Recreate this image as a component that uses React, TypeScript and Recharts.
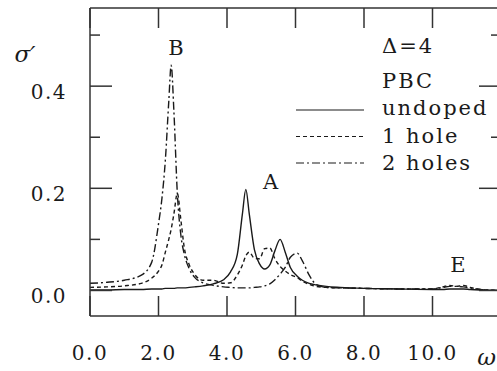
import { LineChart, Line, XAxis, YAxis, Legend, ReferenceDot } from "recharts";

const SERIF = "'DejaVu Serif', 'Liberation Serif', serif";
const INK = "#1a1a1a";
const FRAME = "#333";

// photon energy grid
const omega = [
  0, 0.5, 1.0, 1.5, 1.8, 2.0, 2.1, 2.2, 2.3, 2.37, 2.45, 2.55, 2.65, 2.75, 2.9, 3.05, 3.3, 3.6, 3.9, 4.1,
  4.3, 4.45, 4.55, 4.65, 4.8, 4.95, 5.1, 5.25, 5.4, 5.55, 5.7, 5.85, 6.05, 6.2, 6.4, 6.6, 6.9, 7.3, 8.0,
  9.0, 10.0, 10.3, 10.5, 10.7, 10.9, 11.1, 11.4, 12.0,
];

const undoped = [
  0.001, 0.001, 0.002, 0.002, 0.003, 0.003, 0.003, 0.004, 0.004, 0.004, 0.004, 0.005, 0.005, 0.005, 0.006,
  0.007, 0.009, 0.013, 0.021, 0.036, 0.07, 0.15, 0.198, 0.15, 0.08, 0.052, 0.042, 0.05, 0.078, 0.1, 0.075,
  0.045, 0.028, 0.02, 0.014, 0.011, 0.008, 0.006, 0.004, 0.003, 0.002, 0.002, 0.003, 0.003, 0.003, 0.002,
  0.001, 0.0,
];

const oneHole = [
  0.006, 0.007, 0.009, 0.014, 0.024, 0.038, 0.05, 0.075, 0.1, 0.12, 0.15, 0.19, 0.14, 0.085, 0.05, 0.032,
  0.02, 0.02, 0.014, 0.015, 0.03, 0.05, 0.068, 0.075, 0.063, 0.062, 0.082, 0.083, 0.062, 0.047, 0.038, 0.031,
  0.025, 0.018, 0.012, 0.008, 0.006, 0.005, 0.004, 0.003, 0.003, 0.007, 0.01, 0.008, 0.01, 0.006, 0.002, 0.0,
];

const twoHoles = [
  0.014, 0.016, 0.02, 0.03, 0.055, 0.13, 0.18, 0.255, 0.37, 0.441, 0.35, 0.19, 0.11, 0.072, 0.042, 0.026,
  0.015, 0.01, 0.007, 0.006, 0.005, 0.005, 0.005, 0.005, 0.006, 0.007, 0.009, 0.013, 0.021, 0.032, 0.045,
  0.065, 0.073, 0.058, 0.03, 0.012, 0.006, 0.005, 0.004, 0.003, 0.003, 0.006, 0.008, 0.008, 0.007, 0.005,
  0.002, 0.0,
];

const xTicks = [0, 2, 4, 6, 8, 10, 12];
const yTicks = [0, 0.1, 0.2, 0.3, 0.4, 0.5];
const yLabelled = [0, 0.2, 0.4];

const series = [
  { key: "undoped", name: "undoped", dash: undefined },
  { key: "oneHole", name: "1 hole", dash: "4 3" },
  { key: "twoHoles", name: "2 holes", dash: "8 3 2 3" },
];

// peak labels and axis symbols
const notes = [
  { text: "B", w: 2.51, s: 0.475, italic: false },
  { text: "A", w: 5.27, s: 0.213, italic: false },
  { text: "E", w: 10.74, s: 0.05, italic: false },
  { text: "σ′", w: -1.9, s: 0.463, italic: true },
  { text: "ω", w: 11.58, s: -0.13, italic: true },
];

const data = omega.map((w, i) => ({
  w,
  undoped: undoped[i],
  oneHole: oneHole[i],
  twoHoles: twoHoles[i],
}));

const numStyle = { fontFamily: SERIF, fontSize: 20, letterSpacing: 1.5, fill: INK };

function BottomTick({ x, y, payload }: any) {
  return (
    <g>
      <line x1={x} y1={y} x2={x} y2={y - 20} stroke={FRAME} strokeWidth={1.5} />
      {payload.value < 12 && (
        <text x={x} y={y + 44} textAnchor="middle" {...numStyle}>
          {payload.value.toFixed(1)}
        </text>
      )}
    </g>
  );
}

function TopTick({ x, y }: any) {
  return <line x1={x} y1={y} x2={x} y2={y + 20} stroke={FRAME} strokeWidth={1.5} />;
}

function LeftTick({ x, y, payload }: any) {
  const major = yLabelled.includes(payload.value);
  return (
    <g>
      <line x1={x} y1={y} x2={x + (major ? 22 : 10)} y2={y} stroke={FRAME} strokeWidth={1.5} />
      {major && (
        <text x={x - 23} y={y + 13} textAnchor="end" {...numStyle}>
          {payload.value.toFixed(1)}
        </text>
      )}
    </g>
  );
}

function RightTick({ x, y, payload }: any) {
  const major = yLabelled.includes(payload.value);
  return <line x1={x} y1={y} x2={x - (major ? 22 : 10)} y2={y} stroke={FRAME} strokeWidth={1.5} />;
}

function LegendBox() {
  const txt = { fontFamily: SERIF, fontSize: 21, letterSpacing: 2, fill: INK };
  return (
    <svg width={210} height={150} style={{ display: "block" }}>
      <text x={92} y={23} {...txt}>Δ=4</text>
      <text x={92} y={58} {...txt}>PBC</text>
      {series.map((s, i) => (
        <g key={s.key}>
          <line x1={6} x2={74} y1={80 + i * 26.5} y2={80 + i * 26.5} stroke={INK} strokeWidth={1.2} strokeDasharray={s.dash} />
          <text x={92} y={85 + i * 27.5} {...txt}>{s.name}</text>
        </g>
      ))}
    </svg>
  );
}

export default function App() {
  return (
    <div style={{ position: "absolute", top: 0, left: 0, width: 497, height: 371, overflow: "hidden", background: "#fff", fontFamily: SERIF }}>
      <LineChart width={510} height={371} data={data} margin={{ top: 7, right: 8, bottom: 54, left: 89 }}>
        <XAxis
          dataKey="w"
          type="number"
          domain={[0, 12]}
          ticks={xTicks}
          interval={0}
          height={1}
          tickSize={0}
          tickMargin={0}
          tickLine={false}
          axisLine={{ stroke: FRAME, strokeWidth: 1.5 }}
          tick={<BottomTick />}
        />
        <XAxis
          xAxisId="top"
          orientation="top"
          dataKey="w"
          type="number"
          domain={[0, 12]}
          ticks={xTicks}
          interval={0}
          height={1}
          tickSize={0}
          tickMargin={0}
          tickLine={false}
          axisLine={{ stroke: FRAME, strokeWidth: 1.5 }}
          tick={<TopTick />}
        />
        <YAxis
          type="number"
          domain={[-0.05, 0.553]}
          ticks={yTicks}
          interval={0}
          width={1}
          tickSize={0}
          tickMargin={0}
          tickLine={false}
          allowDataOverflow
          axisLine={{ stroke: FRAME, strokeWidth: 1.5 }}
          tick={<LeftTick />}
        />
        <YAxis
          yAxisId="right"
          orientation="right"
          type="number"
          domain={[-0.05, 0.553]}
          ticks={yTicks}
          interval={0}
          width={1}
          tickSize={0}
          tickMargin={0}
          tickLine={false}
          allowDataOverflow
          axisLine={{ stroke: FRAME, strokeWidth: 1.5 }}
          tick={<RightTick />}
        />
        {series.map((s) => (
          <Line
            key={s.key}
            dataKey={s.key}
            name={s.name}
            type="monotone"
            stroke={INK}
            strokeWidth={1.4}
            strokeDasharray={s.dash}
            dot={false}
            isAnimationActive={false}
          />
        ))}
        {notes.map((n) => (
          <ReferenceDot
            key={n.text}
            x={n.w}
            y={n.s}
            r={0}
            fill="none"
            stroke="none"
            ifOverflow="visible"
            label={{
              value: n.text,
              position: "center",
              fill: INK,
              fontSize: n.italic ? 23 : 21,
              fontStyle: n.italic ? "italic" : "normal",
              fontFamily: SERIF,
            }}
          />
        ))}
        <Legend
          layout="horizontal"
          verticalAlign="middle"
          align="center"
          wrapperStyle={{ position: "absolute", top: 30, left: 290, width: 210, height: 150 }}
          content={() => <LegendBox />}
        />
      </LineChart>
    </div>
  );
}
